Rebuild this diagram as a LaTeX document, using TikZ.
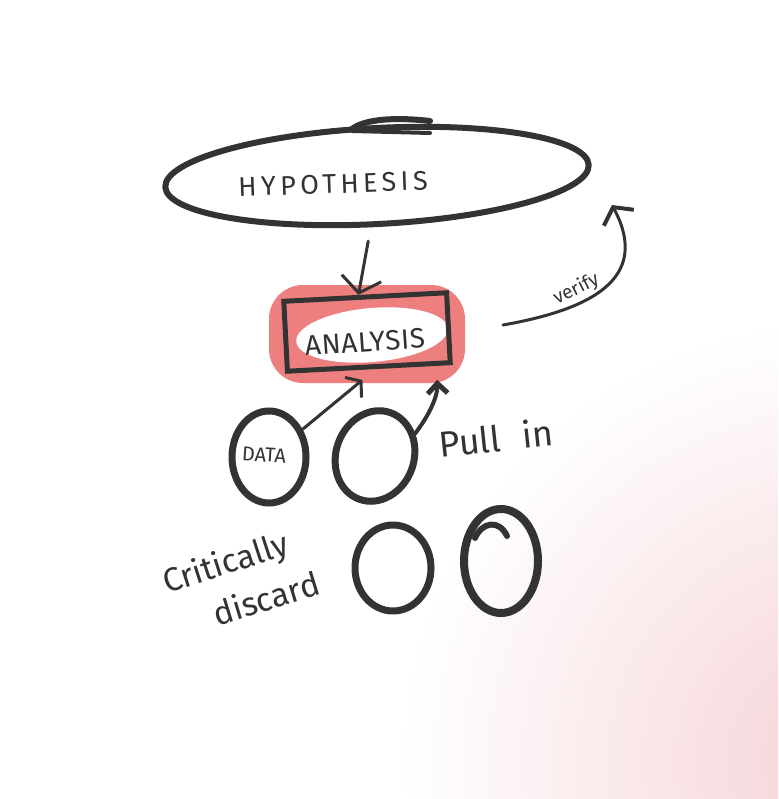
\documentclass[tikz,border=0pt]{standalone}
\usepackage{fontspec}
\setmainfont{Fira Sans}
\usetikzlibrary{arrows.meta,shapes.geometric,positioning}
\definecolor{inkc}{HTML}{333333}
\definecolor{glowc}{HTML}{EE7F7F}
\definecolor{blushc}{HTML}{F5D3D7}
\tikzset{>={Straight Barb[length=15pt,width=40pt,line width=3pt]},
ink/.style={draw=inkc,line width=#1,line cap=round,line join=round},
ink/.default=3,
bubble/.style={ellipse,draw=inkc,line width=7,inner sep=0pt},
scrawl/.style={text=inkc,inner sep=0pt,font=\fontsize{#1}{#1}\selectfont}}

\begin{document}
\begin{tikzpicture}[x=1pt,y=-1pt]
  \useasboundingbox (0,0) rectangle (778,799);
  \fill[white] (0,0) rectangle (778,799);
  \begin{scope}
    \clip (0,0) rectangle (778,799);
    \shade[inner color=blushc,outer color=white] (840,760) circle (440);
  \end{scope}
  % hypothesis
  \node (hyp) [ellipse,ink=6,rotate=3,minimum width=424,minimum height=96]
    at (377,176) {};
  \node (hyptext) [scrawl=27,rotate=2] at (333,184)
    {\addfontfeature{LetterSpace=16}HYPOTHESIS};
  \draw[ink=6] (352,129) .. controls (365,119) and (395,117) .. (430,121);
  \draw[ink=4] (352,131) -- (430,133);
  % analysis
  \node (glow) [fill=glowc,rounded corners=34,minimum width=196,minimum height=98]
    at (367,334) {};
  \node (hole) [ellipse,fill=white,rotate=5,minimum width=152,minimum height=54]
    at (372,335) {};
  \node (ana) [draw=inkc,line width=5,rotate=3,minimum width=163,minimum height=70]
    at (367,332) {};
  \node (anatext) [scrawl=28,rotate=4] at (365,342)
    {\addfontfeature{LetterSpace=2}ANALYSIS};
  % data and the rest
  \node (data) [bubble,minimum width=74,minimum height=92] at (269,457) {};
  \node (datatext) [scrawl=20,rotate=-4] at (264,455) {DATA};
  \node (c2) [bubble,rotate=-20,minimum width=78,minimum height=92] at (375,456) {};
  \node (pull) [scrawl=36,rotate=6] at (496,438) {Pull\hspace{22pt}in};
  \node (c3) [bubble,minimum width=76,minimum height=86] at (393,568) {};
  \node (c4) [bubble,line width=8,minimum width=74,minimum height=104] at (501,561) {};
  \draw[ink=6] (475,538) .. controls (482,522) and (499,519) .. (507,536);
  \node (crit) [scrawl=33,rotate=18] at (226,565) {Critically};
  \node (disc) [scrawl=33,rotate=17] at (266,598) {discard};
  % connectors
  \coordinate (vstart) at (503,325);
  \coordinate (vend) at (612,205);
  \path
    (hyp.-100) edge [ink,->,shorten <=14pt] (ana.100)
    (data) edge [ink,->,shorten >=17pt,
      >={Straight Barb[length=10pt,width=26pt,line width=3pt]}] (ana.-80)
    (c2.north east) edge [ink=4,->,bend right=20,shorten >=14pt,
      >={Straight Barb[length=10pt,width=20pt,line width=5pt]}] (ana.-29)
    (vstart) edge [ink,->,out=10,in=-62,looseness=1.35,
      >={Straight Barb[length=12pt,width=34pt,line width=4pt]}]
      node [scrawl=19,pos=0.36,sloped,above=3pt] {verify} (vend);
\end{tikzpicture}
\end{document}
